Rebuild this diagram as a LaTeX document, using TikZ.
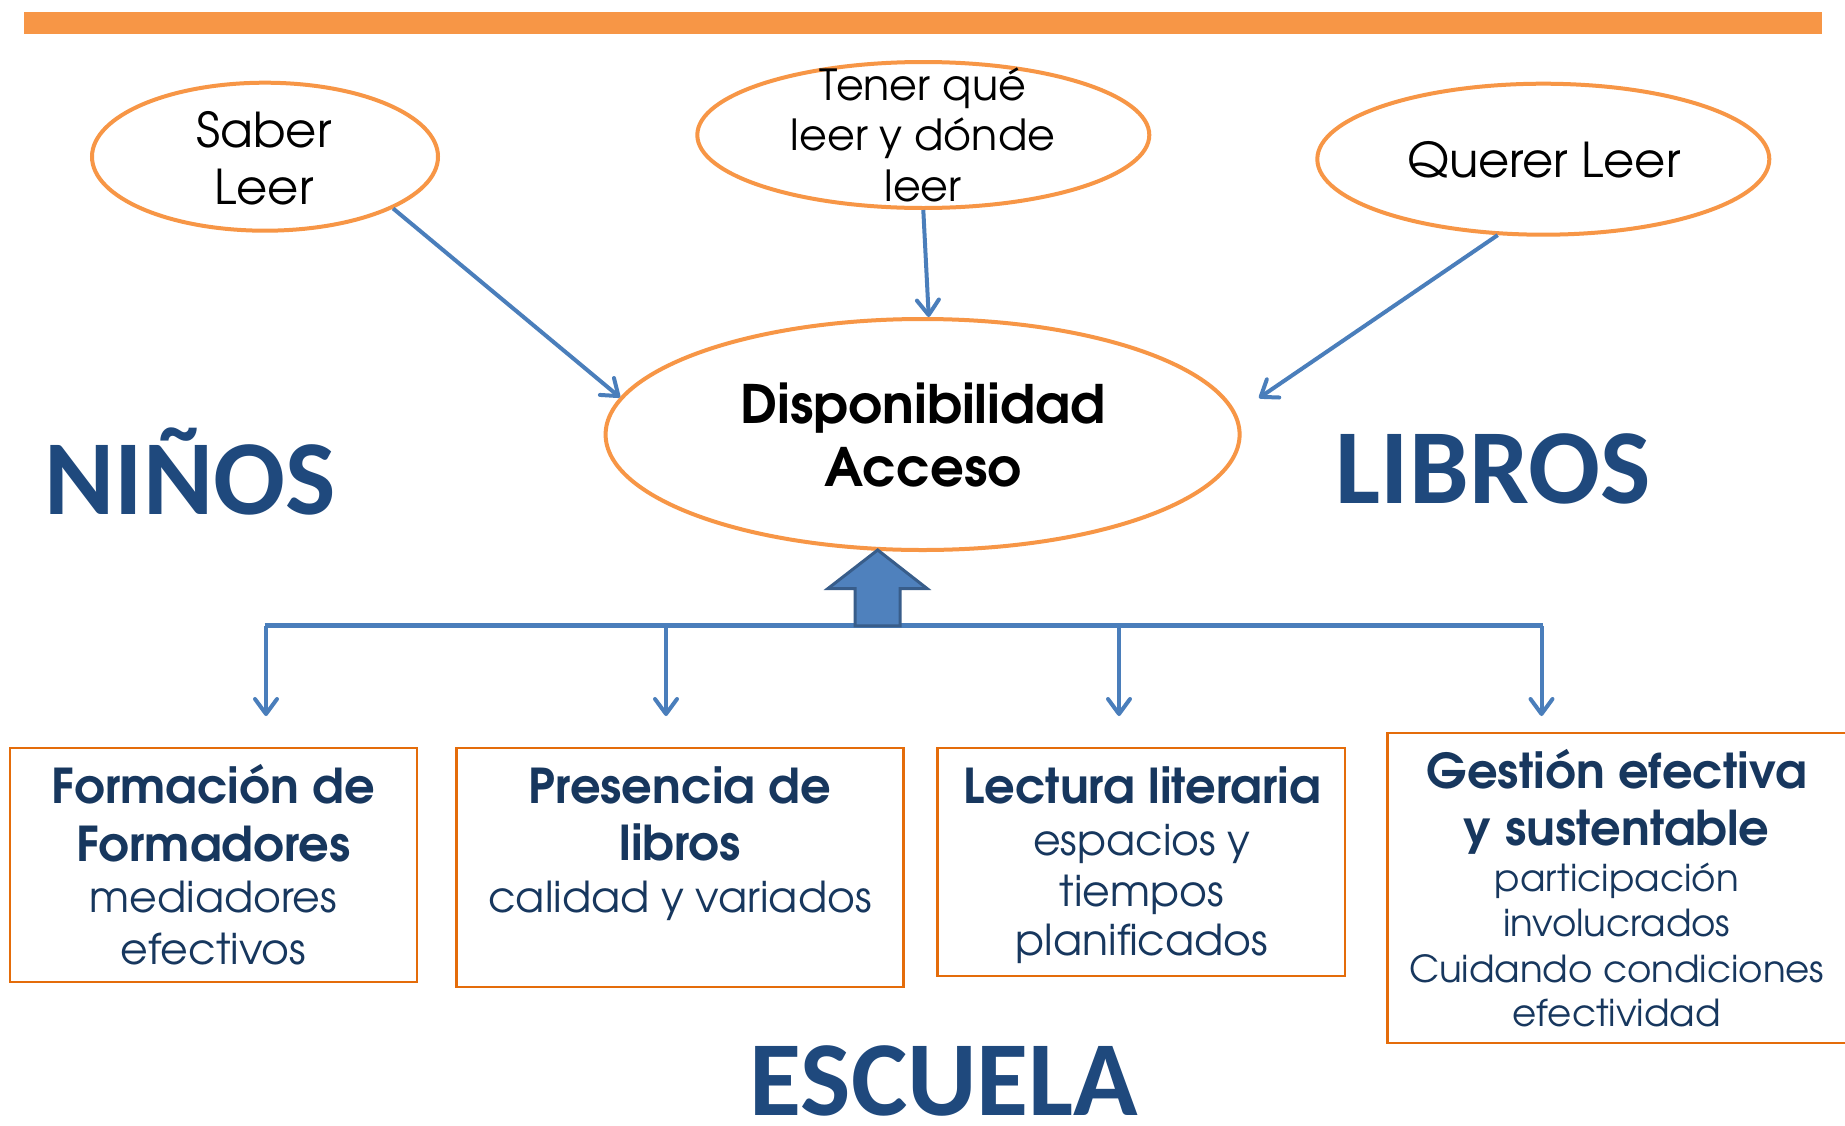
\documentclass[tikz,border=0pt]{standalone}
\usepackage{fontspec}
\setmainfont{TeX Gyre Adventor}
\newfontfamily\bigwordfont{Carlito}
\usetikzlibrary{shapes.geometric,arrows.meta}
\definecolor{ellorange}{HTML}{F79646}
\definecolor{boxorange}{HTML}{E46C0A}
\definecolor{arrowblue}{HTML}{4A7EBB}
\definecolor{blockfill}{HTML}{4F81BD}
\definecolor{blockdraw}{HTML}{385D8A}
\definecolor{bigblue}{HTML}{1F497D}
\definecolor{navytext}{HTML}{17375E}
\newcommand\setfs[1]{\fontsize{#1}{#1}\selectfont}
\begin{document}
\begin{tikzpicture}[x=1pt,y=-1pt,
  ell/.style={ellipse,draw=ellorange,line width=4pt,fill=white,inner sep=0pt},
  sqbox/.style={rectangle,draw=boxorange,line width=2.5pt,inner sep=0pt},
  ellT/.style={anchor=base,inner sep=0pt,text=black,font=\setfs{48}},
  ellTs/.style={anchor=base,inner sep=0pt,text=black,font=\setfs{42.8}},
  dispT/.style={anchor=base,inner sep=0pt,text=black,font=\bfseries\setfs{53}},
  headT/.style={anchor=base,inner sep=0pt,text=navytext,font=\bfseries\setfs{48}},
  bodyT/.style={anchor=base,inner sep=0pt,text=navytext,font=\setfs{42.6}},
  bodyTs/.style={anchor=base,inner sep=0pt,text=navytext,font=\setfs{37.2}},
  bigword/.style={anchor=base,inner sep=0pt,text=bigblue,font=\bigwordfont\bfseries\setfs{106.5}},
  conn/.style={draw=arrowblue,line width=4pt,-{Straight Barb[length=15pt,width=22pt,round]}},
]
\useasboundingbox (0,0) rectangle (1845,1125);
\fill[white] (0,0) rectangle (1845,1125);
% top bar
\fill[ellorange] (23.5,11.5) rectangle (1821.5,34.4);

% ellipses
\node[ell,minimum width=346pt,minimum height=148pt] (saber) at (265,156.7) {};
\node[ell,minimum width=452pt,minimum height=146pt] (tener) at (923.3,135) {};
\node[ell,minimum width=452pt,minimum height=151pt] (querer) at (1543.3,159.2) {};
\node[ell,minimum width=634pt,minimum height=231pt] (disp) at (922.6,434.5) {};

% ellipse texts
\node[ellT] (saber1) at (264,147.3) {Saber};
\node[ellT] (saber2) at (264,204) {Leer};
\node[ellTs] (tener1) at (923,100) {Tener qué};
\node[ellTs] (tener2) at (923,150) {leer y dónde};
\node[ellTs] (tener3) at (923,201.7) {leer};
\node[ellT] (querer1) at (1544,177.3) {Querer Leer};
\node[dispT] (disp1) at (923,423.3) {Disponibilidad};
\node[dispT] (disp2) at (923,486.7) {Acceso};

% connectors to center ellipse
\coordinate (qtip) at (1259,398);
\draw[conn] (saber.-22.9) -- (disp.173.2);
\draw[conn] (tener.south) -- (disp.87.5);
\draw[conn] (querer.-121) -- (qtip);

% big words
\node[bigword] (ninos) at (190,514) {NIÑOS};
\node[bigword] (libros) at (1493,503.2) {LIBROS};
\node[bigword] (escuela) at (944,1115.5) {ESCUELA};

% distribution bar
\coordinate (barL) at (264.7,625.8);
\coordinate (barR) at (1542.6,625.8);
\draw[arrowblue,line width=5pt] (barL) -- (barR);
\coordinate (j1) at (266,625.8);  \coordinate (d1) at (266,716);
\coordinate (j2) at (666,625.8);  \coordinate (d2) at (666,716);
\coordinate (j3) at (1119,625.8); \coordinate (d3) at (1119,716);
\coordinate (j4) at (1541.5,625.8); \coordinate (d4) at (1541.5,716);
\draw[conn] (j1) -- (d1);
\draw[conn] (j2) -- (d2);
\draw[conn] (j3) -- (d3);
\draw[conn] (j4) -- (d4);

% block arrow
\filldraw[fill=blockfill,draw=blockdraw,line width=3pt,line join=miter]
  (877.7,550) -- (927,588.5) -- (900.2,588.5) -- (900.2,625.8)
  -- (855,625.8) -- (855,588.5) -- (828,588.5) -- cycle;

% boxes
\node[sqbox,minimum width=407pt,minimum height=233.6pt] (b1) at (213.3,865) {};
\node[sqbox,minimum width=447pt,minimum height=238.6pt] (b2) at (680,867.5) {};
\node[sqbox,minimum width=407.7pt,minimum height=227.6pt] (b3) at (1141.3,862) {};
\node[sqbox,minimum width=462.5pt,minimum height=309.6pt] (b4) at (1618.75,888) {};

% box texts
\node[headT] (b1a) at (213.3,803.3) {Formación de};
\node[headT] (b1b) at (213.3,861.7) {Formadores};
\node[bodyT] (b1c) at (213.3,912.3) {mediadores};
\node[bodyT] (b1d) at (213.3,964) {efectivos};

\node[headT] (b2a) at (680,803.3) {Presencia de};
\node[headT] (b2b) at (680,860.7) {libros};
\node[bodyT] (b2c) at (680,912.3) {calidad y variados};

\node[headT] (b3a) at (1142,803.3) {Lectura literaria};
\node[bodyT] (b3b) at (1142,855.7) {espacios y};
\node[bodyT] (b3c) at (1142,906.7) {tiempos};
\node[bodyT] (b3d) at (1142,955) {planificados};

\node[headT] (b4a) at (1616.7,788.3) {Gestión efectiva};
\node[headT] (b4b) at (1616.7,845) {y sustentable};
\node[bodyTs] (b4c) at (1616.7,891.7) {participación};
\node[bodyTs] (b4d) at (1616.7,936.7) {involucrados};
\node[bodyTs] (b4e) at (1616.7,982.3) {Cuidando condiciones};
\node[bodyTs] (b4f) at (1616.7,1026.7) {efectividad};
\end{tikzpicture}
\end{document}
